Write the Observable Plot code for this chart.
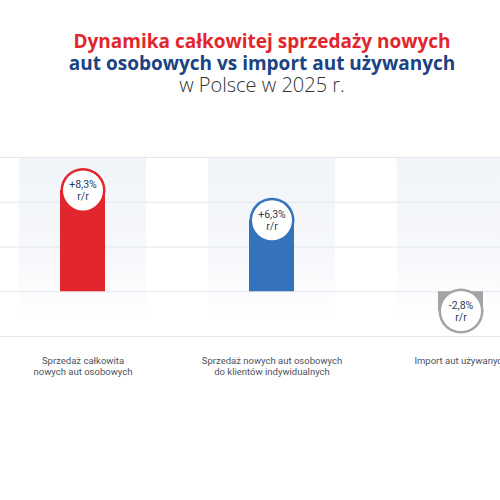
<!DOCTYPE html>
<html>
<head>
<meta charset="utf-8">
<script src="https://cdn.jsdelivr.net/npm/d3@7"></script>
<script src="https://cdn.jsdelivr.net/npm/@observablehq/plot@0.6"></script>
<style>
  html, body { margin: 0; padding: 0; background: #fff; overflow: hidden; width: 500px; height: 500px; }
  #title { box-sizing: border-box; height: 130px; padding-top: 30px; padding-left: 24px; text-align: center;
           font-family: "Open Sans", sans-serif; font-size: 19px; line-height: 22px; }
  #title .l1 { color: #e2262d; font-weight: 700; }
  #title .l2 { color: #1b4383; font-weight: 700; }
  #title .l3 { color: #333; font-weight: 300; font-size: 20px; }
  #chart svg { display: block; overflow: hidden; }
</style>
</head>
<body>
<div id="title">
  <div class="l1">Dynamika całkowitej sprzedaży nowych</div>
  <div class="l2">aut osobowych vs import aut używanych</div>
  <div class="l3">w Polsce w 2025 r.</div>
</div>
<div id="chart"></div>
<script>
// values (% r/r)
const categories = ["total", "private", "import"];
const labels = [
  "Sprzedaż całkowita\nnowych aut osobowych",
  "Sprzedaż nowych aut osobowych\ndo klientów indywidualnych",
  "Import aut używanych"
];
const values = [8.3, 6.3, -2.8];
const colors = ["#e1262d", "#3473bb", "#a4a4a4"];
const gridTicks = [-3, 0, 3, 6, 9];

const data = categories.map((c, i) => ({name: c, label: labels[i], value: values[i], color: colors[i]}));
const pos = data.filter(d => d.value >= 0);
const neg = data.filter(d => d.value < 0);

const fmt = v => (v > 0 ? "+" : "") + v.toFixed(1).replace(".", ",") + "%\nr/r";
const cap = 22.5;   // half bar width, px
const barInset = 41;

const gradient = () => {
  const defs = d3.create("svg:defs");
  const g = defs.append("linearGradient")
    .attr("id", "bandFade").attr("x1", 0).attr("y1", 0).attr("x2", 0).attr("y2", 1);
  g.append("stop").attr("offset", "0%").attr("stop-color", "#f1f4f9");
  g.append("stop").attr("offset", "55%").attr("stop-color", "#f6f8fb");
  g.append("stop").attr("offset", "92%").attr("stop-color", "#ffffff");
  return defs.node();
};

const chart = Plot.plot({
  width: 500,
  height: 370,
  marginTop: 27,
  marginBottom: 164,
  marginLeft: 0,
  marginRight: 0,
  style: {fontFamily: "Roboto, sans-serif", background: "transparent"},
  x: {domain: categories, range: [-45.3, 587.3], padding: 0.33, axis: null},
  y: {domain: [-3, 9], axis: null},
  color: {type: "identity"},
  marks: [
    gradient,
    Plot.barY(data, {x: "name", y1: -3, y2: 9, fill: "url(#bandFade)"}),
    Plot.ruleY(gridTicks, {stroke: "#e3e6eb", strokeWidth: 1}),
    // bars, squared end at zero and rounded cap at the value
    Plot.barY(pos, {x: "name", y1: 0, y2: "value", fill: "color", insetLeft: barInset, insetRight: barInset, insetTop: cap}),
    Plot.barY(neg, {x: "name", y1: 0, y2: "value", fill: "color", insetLeft: barInset, insetRight: barInset, insetBottom: cap}),
    Plot.dot(pos, {x: "name", y: "value", dy: cap, r: cap, fill: "color"}),
    Plot.dot(neg, {x: "name", y: "value", dy: -cap, r: cap, fill: "color"}),
    Plot.dot(pos, {x: "name", y: "value", dy: cap, r: 20, fill: "white"}),
    Plot.dot(neg, {x: "name", y: "value", dy: -cap, r: 20, fill: "white"}),
    Plot.text(pos, {x: "name", y: "value", dy: cap, text: d => fmt(d.value), fontSize: 10.5, lineHeight: 1.1, fill: "#2c3b57"}),
    Plot.text(neg, {x: "name", y: "value", dy: -cap, text: d => fmt(d.value), fontSize: 10.5, lineHeight: 1.1, fill: "#2c3b57"}),
    // category labels below the plot
    Plot.text(data, {x: "name", y: -3, text: "label", dy: 20, lineAnchor: "top", fontSize: 9.5, lineHeight: 1.15, fill: "#4d525c"})
  ]
});

document.getElementById("chart").append(chart);
</script>
</body>
</html>
